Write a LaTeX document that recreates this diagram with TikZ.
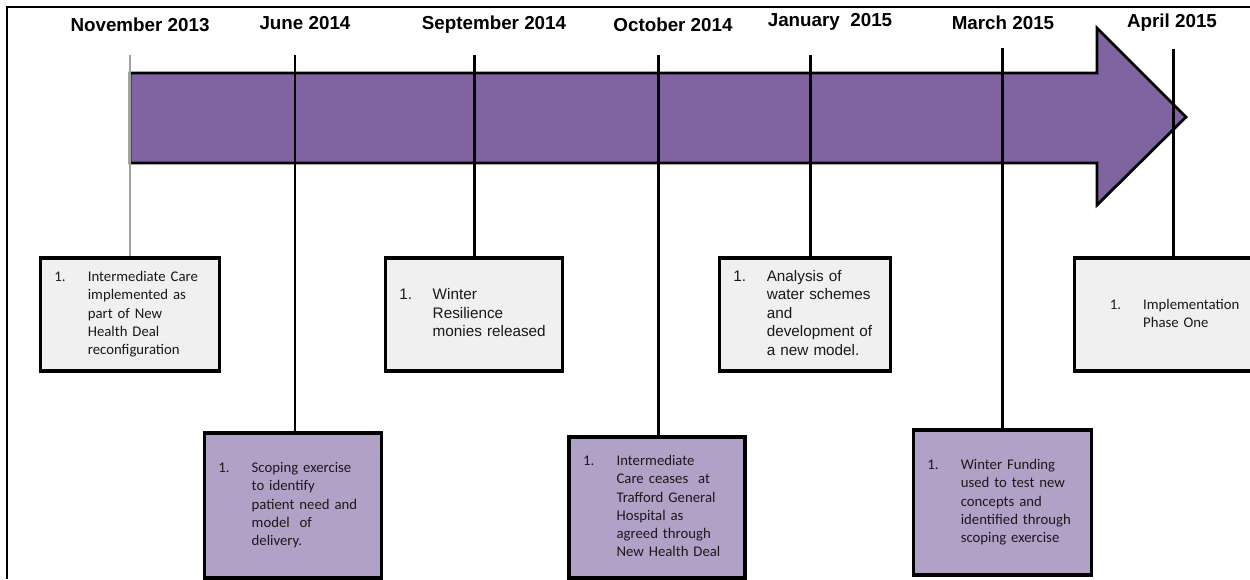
\documentclass[tikz,border=0pt]{standalone}
\usepackage{fontspec}
\setmainfont{Liberation Sans}
\newfontfamily\calfont{Carlito}
\usepackage{tikz}
\usetikzlibrary{positioning}

\definecolor{arrowpurple}{HTML}{8064A2}
\definecolor{boxlilac}{HTML}{B2A1C7}
\definecolor{boxgrey}{HTML}{F0F0F0}
\definecolor{tickgrey}{HTML}{A0A0A0}

\newcommand{\evt}[1]{\noindent\makebox[19pt][l]{1.}\begin{tabular}[t]{@{}l@{}}#1\end{tabular}}

\begin{document}
\begin{tikzpicture}[x=0.02cm, y=-0.02cm, font=\fontsize{8.7}{10.5}\selectfont]
    \tikzset{
        evbox/.style = {rectangle, draw, line width=2pt, inner xsep=8pt, inner ysep=0pt, align=left, text=black!90},
        greybox/.style = {evbox, fill=boxgrey},
        lilacbox/.style = {evbox, fill=boxlilac},
        cal/.style = {font=\calfont\fontsize{8.4}{10.4}\selectfont},
        datelabel/.style = {font=\bfseries\fontsize{10.7}{12}\selectfont},
        tick/.style = {line width=1.7pt},
    }
    \useasboundingbox (0,0) rectangle (1250,579);

    % frame
    \draw[line width=0.8pt] (1250,7) -- (7,7) -- (7,579);

    % big arrow
    \draw[line width=1.6pt, fill=arrowpurple, line join=miter]
        (130,73) -- (1097,73) -- (1097,28) -- (1186,117) -- (1097,205) -- (1097,163) -- (130,163) -- cycle;

    % dates
    \node [datelabel] (d1) at (140,25) {November 2013};
    \node [datelabel] (d2) at (305,23) {June 2014};
    \node [datelabel] (d3) at (494,25) {September 2014};
    \node [datelabel] (d4) at (673,25) {October 2014};
    \node [datelabel] (d5) at (830,22) {January\ \ 2015};
    \node [datelabel] (d6) at (1003,23) {March 2015};
    \node [datelabel] (d7) at (1172,23) {April 2015};

    % upper boxes
    \node [greybox,cal,text width=86pt,minimum height=2.26cm] (nov) at (130,314.5)
        {\evt{Intermediate Care\\implemented as\\part of New\\Health Deal\\reconfiguration}};
    \node [greybox,text width=85pt,minimum height=2.26cm] (sep) at (474,314.5)
        {\evt{Winter\\Resilience\\monies released}};
    \node [greybox,text width=81.5pt,minimum height=2.26cm] (jan) at (805,314.5)
        {\evt{Analysis of\\water schemes\\and\\development of\\a new model.}};
    \node [greybox,cal,inner xsep=20pt,text width=72pt,minimum height=2.26cm] (apr) at (1173,314.5)
        {\evt{Implementation\\Phase One}};

    % lower boxes
    \node [lilacbox,cal,text width=85pt,minimum height=2.9cm] (jun) at (293,505.5)
        {\evt{Scoping exercise\\to identify\\patient need and\\model\ \ of\\delivery.}};
    \node [lilacbox,cal,text width=84pt,minimum height=2.82cm] (oct) at (657,507.5)
        {\evt{Intermediate\\Care ceases\ \ at\\Trafford General\\Hospital as\\agreed through\\New Health Deal}};
    \node [lilacbox,cal,text width=85.5pt,minimum height=2.9cm] (mar) at (1002.5,502.5)
        {\evt{Winter Funding\\used to test new\\concepts and\\identified through\\scoping exercise}};

    % tick lines
    \coordinate (t1) at (130,55);
    \coordinate (t2) at (295,55);
    \coordinate (t3) at (474,55);
    \coordinate (t4) at (658,55);
    \coordinate (t5) at (810,55);
    \coordinate (t6) at (1002,48);
    \coordinate (t7) at (1173,49);

    \draw[tick, tickgrey] (t1) -- (t1 |- nov.north);
    \draw[tick] (t2) -- (t2 |- jun.north);
    \draw[tick] (t3) -- (t3 |- sep.north);
    \draw[tick] (t4) -- (t4 |- oct.north);
    \draw[tick] (t5) -- (t5 |- jan.north);
    \draw[tick] (t6) -- (t6 |- mar.north);
    \draw[tick] (t7) -- (t7 |- apr.north);
\end{tikzpicture}
\end{document}
